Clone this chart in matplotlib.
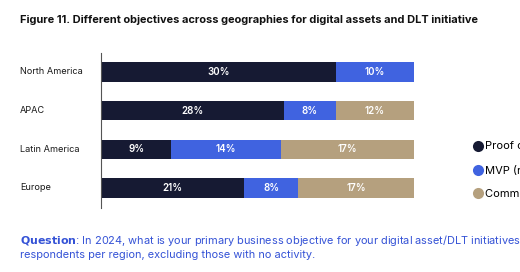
import matplotlib
matplotlib.use("Agg")
import matplotlib.pyplot as plt
from matplotlib.lines import Line2D
from matplotlib.transforms import blended_transform_factory
import numpy as np

regions = ["North America", "APAC", "Latin America", "Europe"]
series_names = ["Proof of concept", "MVP (release of minimum viable product)", "Commercial launch"]
poc = [30, 28, 9, 21]
mvp = [10, 8, 14, 8]
commercial = [0, 12, 17, 17]
colors = ["#161a33", "#4063e0", "#b5a07e"]

plt.rcParams['font.family'] = ['Inter', 'DejaVu Sans']

fig = plt.figure(figsize=(5.2, 2.72), dpi=100)
fig.patch.set_facecolor("white")

W, H = 520, 272
ax = fig.add_axes([101 / W, 1 - 208 / H, (414 - 101) / W, (208 - 53) / H])

data = np.array([poc, mvp, commercial], dtype=float)
totals = data.sum(axis=0)
shares = data / totals
y = np.arange(len(regions))
left = np.zeros(len(regions))
for i in range(len(series_names)):
    ax.barh(y, shares[i], left=left, height=0.5, color=colors[i], edgecolor="none")
    for j in range(len(regions)):
        if data[i, j] > 0:
            ax.text(left[j] + shares[i, j] / 2, y[j], f"{int(data[i, j])}%",
                    ha="center", va="center", color="white", fontsize=7.0,
                    fontweight="semibold")
    left += shares[i]

ax.set_xlim(0, 1)
ax.set_ylim(3.52, -0.49)
ax.set_yticks([])
ax.set_xticks([])
for s in ["top", "right", "bottom"]:
    ax.spines[s].set_visible(False)
ax.spines["left"].set_color("#555555")
ax.spines["left"].set_linewidth(0.8)

trans = blended_transform_factory(fig.transFigure, ax.transData)
for j, r in enumerate(regions):
    fig.text(20 / W, y[j], r, transform=trans, ha="left", va="center",
             fontsize=6.6, color="#1a1a1a")

fig.text(20 / W, 1 - 20 / H,
         "Figure 11. Different objectives across geographies for digital assets and DLT initiative",
         ha="left", va="center", fontsize=7.93, fontweight="bold", color="#111111")

handles = [Line2D([0], [0], marker="o", linestyle="none", markersize=8,
                  markerfacecolor=c, markeredgecolor="none") for c in colors]
fig.legend(handles, series_names, loc="upper left",
           bbox_to_anchor=(467 / W, 1 - 137 / H), frameon=False,
           fontsize=8.0, handletextpad=0.05, labelspacing=1.2,
           handlelength=1.2, borderaxespad=0)

blue = "#3452d6"
fig.text(20 / W, 1 - 240 / H, r"$\bf{Question}$: In 2024, what is your primary business objective for your digital asset/DLT initiatives? Share of",
         ha="left", va="center", fontsize=7.9, color=blue)
fig.text(20 / W, 1 - 255 / H, "respondents per region, excluding those with no activity.",
         ha="left", va="center", fontsize=7.9, color=blue)

fig.savefig("out.png", dpi=100, facecolor="white")
